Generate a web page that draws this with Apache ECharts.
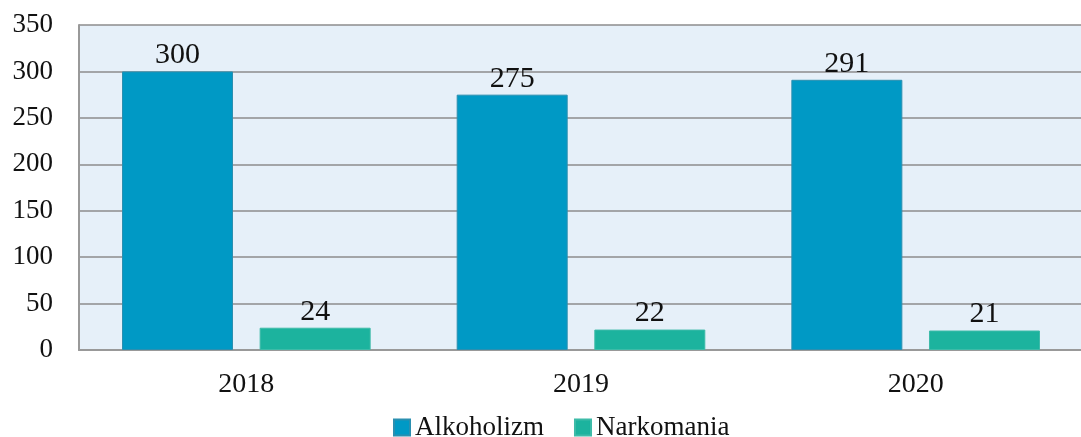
<!DOCTYPE html>
<html>
<head>
<meta charset="utf-8">
<script src="https://cdn.jsdelivr.net/npm/echarts@6/dist/echarts.min.js"></script>
<style>
  html, body { margin: 0; padding: 0; background: #fff; }
  #chart { width: 1081px; height: 437px; }
</style>
</head>
<body>
<div id="chart"></div>
<script>
const years = ['2018', '2019', '2020']
const alkoholizm = [300, 275, 291]
const narkomania = [24, 22, 21]

const font = 'Liberation Serif'
const chart = echarts.init(document.getElementById('chart'))

chart.setOption({
  animation: false,
  grid: {
    left: 79,
    right: -2,
    top: 25,
    bottom: 87,
    outerBoundsMode: 'none',
    show: true,
    backgroundColor: '#E6F0F9',
    borderWidth: 0
  },
  legend: {
    top: 414,
    left: 393,
    itemWidth: 16,
    itemHeight: 16,
    itemGap: 30,
    padding: 0,
    icon: 'rect',
    textStyle: { fontFamily: font, fontSize: 27, color: '#111' },
    data: ['Alkoholizm', 'Narkomania']
  },
  xAxis: {
    type: 'category',
    data: years,
    axisTick: { show: false },
    axisLine: { lineStyle: { color: '#999', width: 2 } },
    axisLabel: { fontFamily: font, fontSize: 28, color: '#111', margin: 21 }
  },
  yAxis: {
    type: 'value',
    min: 0,
    max: 350,
    interval: 50,
    axisLine: { show: true, lineStyle: { color: '#999', width: 2 } },
    axisTick: { show: false },
    axisLabel: { fontFamily: font, fontSize: 27, color: '#111', margin: 26 },
    splitLine: { lineStyle: { color: '#8C8C8C', width: 1.5 } }
  },
  series: [
    {
      name: 'Alkoholizm',
      type: 'bar',
      data: alkoholizm,
      barWidth: 111,
      barGap: '24%',
      itemStyle: { color: '#0099C5', borderColor: '#2B8FB0', borderWidth: 1 },
      label: { show: true, position: 'top', distance: 1, fontFamily: font, fontSize: 30, color: '#111' }
    },
    {
      name: 'Narkomania',
      type: 'bar',
      data: narkomania,
      barWidth: 111,
      itemStyle: { color: '#1CB39E', borderColor: '#3DBBA8', borderWidth: 1 },
      label: { show: true, position: 'top', distance: 1, fontFamily: font, fontSize: 30, color: '#111' }
    }
  ]
})
</script>
</body>
</html>
